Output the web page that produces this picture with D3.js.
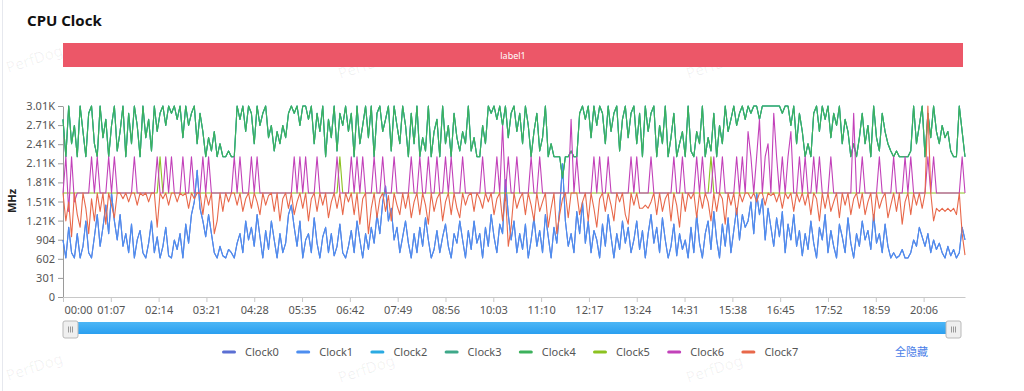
<!DOCTYPE html>
<html>
<head>
<meta charset="utf-8">
<script src="https://cdn.jsdelivr.net/npm/d3@7"></script>
<style>
  body { margin: 0; background: #fff; }
  svg { display: block; font-family: "Noto Sans", "Noto Sans CJK SC", sans-serif; }
</style>
</head>
<body>
<svg id="chart" width="1024" height="391"></svg>
<script>
// one sample every 4 seconds, 0 .. 21:04
const sampleSeconds = 4
const seriesNames = ['Clock0', 'Clock1', 'Clock2', 'Clock3', 'Clock4', 'Clock5', 'Clock6', 'Clock7']
const seriesColors = ['#5b6fd3', '#4d8ef0', '#2aaae2', '#3ea889', '#3cb15c', '#8cc220', '#c241b9', '#e8684a']
const xTickLabels = ['00:00', '01:07', '02:14', '03:21', '04:28', '05:35', '06:42', '07:49', '08:56', '10:03',
  '11:10', '12:17', '13:24', '14:31', '15:38', '16:45', '17:52', '18:59', '20:06']
const yTickLabels = ['0', '301', '602', '904', '1.21K', '1.51K', '1.81K', '2.11K', '2.41K', '2.71K', '3.01K']
const yMax = 3014
const durationSeconds = 1264

// little cores (MHz)
const clock1 = [
  900, 615, 1100, 700, 615, 1000, 615, 800, 1200, 700, 615, 950, 1300, 800, 1100, 1450, 1000, 1641, 1200, 900,
  1300, 800, 1000, 700, 1150, 615, 900, 1050, 700, 615, 850, 1200, 700, 950, 615, 800, 1100, 650, 615, 900,
  750, 1000, 615, 1150, 850, 1300, 1500, 2000, 1400, 1200, 950, 1300, 1000, 700, 615, 800, 650, 615, 750, 700,
  615, 850, 1000, 700, 1200, 900, 1100, 800, 1300, 950, 615, 1050, 750, 1200, 900, 615, 1000, 700, 850, 1300,
  1450, 1100, 800, 1200, 615, 900, 1000, 700, 1250, 850, 615, 950, 1100, 700, 1000, 650, 800, 1150, 700, 615,
  800, 1050, 700, 1200, 900, 615, 1000, 750, 1100, 850, 1300, 1000, 1500, 1750, 1200, 1400, 900, 1100, 700, 950,
  1200, 850, 615, 1000, 700, 1100, 800, 1250, 900, 615, 750, 1050, 700, 950, 1150, 800, 615, 1000, 850, 1200,
  900, 615, 1050, 750, 1200, 850, 1000, 615, 1100, 800, 1300, 950, 700, 1150, 1000, 1850, 1300, 900, 1200, 700,
  1000, 750, 1150, 615, 900, 1250, 800, 1050, 700, 1300, 950, 615, 1100, 850, 1400, 2100, 1200, 800, 1000, 700,
  1350, 1000, 1500, 850, 1200, 700, 1050, 900, 615, 1150, 800, 1300, 950, 615, 1000, 750, 1200, 850, 1100, 700,
  900, 1200, 750, 1050, 615, 1000, 1300, 850, 1100, 700, 1250, 900, 615, 800, 1150, 650, 1000, 750, 900, 615,
  1100, 700, 1300, 850, 615, 1000, 1200, 750, 1350, 900, 615, 1150, 800, 1250, 700, 1050, 1400, 900, 1300, 1100,
  1200, 1500, 1000, 1641, 1300, 1550, 900, 1400, 1100, 800, 1250, 950, 1350, 700, 1150, 900, 1300, 800, 1050, 650,
  1000, 750, 1200, 850, 615, 1100, 900, 1300, 700, 1050, 800, 615, 1150, 950, 700, 1250, 850, 615, 1000, 800,
  1200, 900, 1050, 750, 1300, 850, 1000, 700, 1150, 800, 615, 700, 615, 650, 750, 615, 615, 700, 900, 800,
  1100, 950, 800, 1000, 700, 900, 750, 850, 700, 615, 800, 650, 750, 615, 700, 1100, 900
]

// big cores
const clock4 = [
  2803, 2214, 3014, 2419, 2707, 2214, 3014, 2611, 2214, 2899, 3014, 2419, 2214, 3014, 2515, 2803, 2214, 2707, 3014, 2304,
  2611, 3014, 2214, 2899, 2419, 3014, 2707, 2214, 3014, 2515, 2803, 2304, 3014, 2611, 2899, 3014, 2707, 3014, 2899, 3014,
  2803, 3014, 2515, 3014, 2707, 2899, 3014, 2419, 2899, 2611, 2214, 2515, 2304, 2611, 2214, 2419, 2214, 2214, 2304, 2214,
  2214, 3014, 2803, 3014, 2611, 3014, 2899, 2419, 3014, 2707, 2899, 3014, 2515, 2707, 2304, 2611, 2419, 2707, 2515, 2899,
  3014, 2899, 3014, 2707, 3014, 3014, 2803, 3014, 2419, 2899, 2611, 3014, 2214, 2803, 2515, 3014, 2304, 2899, 2707, 3014,
  2611, 2899, 2214, 3014, 2419, 2707, 3014, 2515, 3014, 2214, 2899, 3014, 2611, 2803, 3014, 2304, 3014, 2707, 2419, 3014,
  2707, 2214, 2899, 2419, 3014, 2214, 2515, 2304, 3014, 2214, 2611, 2803, 2214, 3014, 2419, 2707, 2214, 2899, 2515, 2304,
  2611, 2419, 3014, 2304, 2515, 2214, 2214, 2707, 2419, 3014, 2899, 3014, 2803, 3014, 2707, 3014, 2515, 2899, 3014, 2611,
  2899, 2419, 3014, 2707, 2214, 2611, 2899, 2304, 2515, 3014, 2214, 2419, 2214, 2214, 2214, 1880, 2214, 2214, 2304, 2214,
  2214, 2899, 3014, 2803, 3014, 2515, 3014, 2707, 3014, 2899, 2419, 3014, 2611, 2899, 3014, 2304, 2803, 3014, 2515, 2899,
  3014, 2419, 2899, 2214, 3014, 2611, 2899, 3014, 2214, 2707, 2419, 3014, 2214, 2515, 2899, 2214, 2419, 2611, 2214, 3014,
  2304, 2214, 2611, 2419, 3014, 2214, 2515, 2304, 2899, 2214, 2707, 2419, 3014, 2611, 2803, 3014, 2707, 2899, 3014, 2803,
  3014, 2899, 3014, 3014, 2803, 3014, 3014, 3014, 3014, 3014, 3014, 3014, 2899, 3014, 3014, 2707, 3014, 2419, 2899, 2611,
  2214, 2419, 2214, 2899, 3014, 2611, 3014, 2803, 3014, 2515, 2899, 2707, 3014, 2419, 2803, 2611, 2214, 2419, 2214, 2515,
  2899, 2419, 2707, 2214, 3014, 2515, 2304, 2899, 2611, 2419, 2304, 2214, 2304, 2214, 2214, 2214, 2214, 2304, 3014, 2419,
  2707, 3014, 2214, 2899, 2515, 3014, 2611, 2419, 2707, 2515, 2611, 2304, 2214, 2214, 3014, 2611, 2214
]

const clock5 = [
  1641, 1641, 1641, 1641, 1641, 1641, 1641, 1641, 1641, 1641, 1641, 1641, 1641, 1641, 1641, 1641, 1641, 1641, 1641, 1641,
  1641, 1641, 1641, 1641, 1641, 1641, 1641, 1641, 1641, 1641, 1641, 1641, 1641, 1641, 2214, 1641, 1641, 1641, 1641, 1641,
  1641, 1641, 1641, 1641, 1641, 1641, 1641, 1641, 1641, 1641, 1641, 1641, 1641, 1641, 1641, 1641, 1641, 1641, 1641, 1641,
  1641, 1641, 1641, 1641, 1641, 1641, 1641, 1641, 1641, 1641, 1641, 1641, 1641, 1641, 1641, 1641, 1641, 1641, 1641, 1641,
  1641, 1641, 1641, 1641, 1641, 1641, 1641, 1641, 1641, 1641, 1641, 1641, 1641, 1641, 1641, 1641, 1641, 2214, 1641, 1641,
  1641, 1641, 1641, 1641, 1641, 1641, 1641, 1641, 1641, 1641, 1641, 1641, 1641, 1641, 1641, 1641, 1641, 1641, 1641, 1641,
  1641, 1641, 1641, 1641, 1641, 1641, 1641, 1641, 1641, 1641, 1641, 1641, 1641, 1641, 1641, 1641, 1641, 1641, 1641, 1641,
  1641, 1641, 1641, 1641, 1641, 1641, 1641, 1641, 1641, 1641, 1641, 1641, 1641, 1641, 1641, 1641, 1641, 1641, 1641, 1641,
  1641, 1641, 1641, 1641, 1641, 1641, 1641, 1641, 1641, 1641, 1641, 1641, 1641, 1641, 1641, 1641, 1641, 1641, 1641, 1641,
  1641, 1641, 1641, 1641, 1641, 1641, 1641, 1641, 1641, 1641, 1641, 1641, 1641, 1641, 1641, 1641, 1641, 1641, 1641, 1641,
  1641, 1641, 1641, 1641, 1641, 1641, 1641, 1641, 1641, 1641, 1641, 1641, 1641, 1641, 1641, 1641, 1641, 1641, 1641, 1641,
  1641, 1641, 1641, 1641, 1641, 1641, 1641, 2214, 1641, 1641, 1641, 1641, 1641, 1641, 1641, 1641, 1641, 1641, 1641, 1641,
  1641, 1641, 1641, 1641, 1641, 1641, 1641, 1641, 1641, 1641, 1641, 1641, 1641, 1641, 1641, 1641, 1641, 1641, 1641, 1641,
  1641, 1641, 1641, 1641, 1641, 1641, 1641, 1641, 1641, 1641, 1641, 1641, 1641, 1641, 1641, 1641, 1641, 1641, 1641, 1641,
  1641, 1641, 1641, 1641, 1641, 1641, 1641, 1641, 1641, 1641, 1641, 1641, 1641, 1641, 1641, 1641, 1641, 1641, 1641, 1641,
  1641, 1641, 1641, 1641, 1641, 1641, 1641, 1641, 1641, 1641, 1641, 1641, 1641, 1641, 1641, 1641, 1641
]

const clock6 = [
  1641, 2214, 1350, 2214, 1500, 1641, 1641, 1641, 1641, 1641, 2214, 1641, 2214, 1641, 1641, 1641, 2214, 1641, 2214, 1641,
  1641, 1641, 1641, 1641, 1641, 2214, 1641, 1641, 1641, 1641, 1641, 1641, 1641, 2214, 1641, 1641, 2214, 1641, 2214, 1641,
  1641, 1641, 2214, 1641, 1641, 2214, 1641, 1641, 1641, 2214, 1641, 2214, 1641, 1641, 1641, 1641, 1641, 1641, 1641, 1641,
  2214, 1641, 2214, 1641, 1641, 1641, 2214, 1641, 2214, 1641, 1641, 1641, 1641, 1641, 1641, 1641, 1641, 1641, 1641, 1641,
  1641, 2214, 1641, 2214, 1641, 2214, 1641, 1641, 1641, 2214, 1641, 1641, 1641, 1641, 1641, 1641, 2214, 1641, 1641, 1641,
  1641, 2214, 1641, 2214, 1641, 2214, 1641, 1641, 1641, 2214, 1641, 1641, 2214, 1641, 1641, 1641, 2214, 1641, 1641, 1641,
  1641, 1641, 2214, 1641, 1641, 2214, 1641, 1641, 2214, 1641, 1641, 2214, 1641, 1641, 2214, 1641, 2214, 1641, 1641, 1641,
  2214, 1641, 1641, 1641, 1641, 1641, 1641, 2214, 1641, 1641, 1641, 1641, 2214, 1641, 2700, 1641, 2214, 1641, 1641, 2214,
  1641, 1641, 1641, 1641, 2214, 1641, 1641, 2214, 1641, 1641, 1641, 1641, 1641, 1641, 1641, 1641, 1641, 1641, 2803, 1641,
  2214, 1641, 1641, 1641, 1641, 1641, 2214, 1641, 2214, 1641, 1641, 2214, 1641, 1641, 1641, 1641, 1641, 1641, 1641, 2214,
  1641, 2214, 1641, 1641, 1641, 1641, 2214, 1641, 1641, 1641, 1641, 1641, 1641, 1641, 2214, 1641, 1641, 2214, 1641, 1641,
  1641, 1641, 2214, 1641, 2214, 1641, 1641, 1641, 2214, 1641, 1641, 2214, 1641, 1641, 1641, 1641, 2214, 1641, 2214, 1641,
  2611, 2214, 1641, 2214, 2803, 1641, 2214, 2419, 1641, 2899, 2214, 1641, 2214, 1641, 2214, 2611, 1641, 1641, 2214, 1641,
  2214, 1641, 1641, 2214, 1641, 2214, 1641, 1641, 1641, 2214, 1641, 1641, 1641, 1641, 1641, 1641, 1641, 2899, 1641, 1641,
  2214, 1641, 1641, 1641, 1641, 1641, 2214, 1641, 1641, 1641, 1641, 2214, 1641, 1641, 1641, 2214, 1641, 2214, 1641, 1641,
  1641, 1641, 1641, 2214, 1641, 2214, 1641, 1641, 1641, 1641, 1641, 1641, 1641, 1641, 1641, 2214, 1641
]

const clock7 = [
  1641, 1200, 1500, 950, 1641, 1300, 1100, 1641, 1400, 1000, 1550, 1200, 1641, 1350, 1641, 1150, 1641, 1450, 1250, 1641,
  1641, 1550, 1641, 1500, 1641, 1641, 1450, 1641, 1600, 1641, 1500, 1641, 1641, 1100, 1641, 1550, 1641, 1450, 1641, 1641,
  1500, 1641, 1600, 1641, 1400, 1641, 1550, 1641, 1641, 1300, 1641, 1450, 1641, 1000, 1200, 1641, 1350, 1641, 1500, 1641,
  1641, 1450, 1641, 1350, 1550, 1641, 1400, 1641, 1500, 1300, 1641, 1450, 1600, 1641, 1350, 1641, 1200, 1550, 1641, 1400,
  1641, 1300, 1500, 1641, 1400, 1641, 1200, 1550, 1641, 1350, 1641, 1450, 1641, 1250, 1500, 1641, 1400, 1641, 1300, 1641,
  1500, 1641, 1300, 1641, 1150, 1550, 1641, 1000, 1400, 1641, 1250, 1550, 1641, 1350, 1600, 1200, 1641, 1450, 1300, 1641,
  1400, 1641, 1250, 1500, 1641, 1300, 1641, 1450, 1150, 1641, 1350, 1550, 1641, 1200, 1500, 1641, 1300, 1641, 1400, 1250,
  1641, 1450, 1600, 1641, 1350, 1641, 1550, 1400, 1641, 1500, 1641, 1300, 1550, 1641, 1200, 1641, 800, 1100, 1641, 1400,
  1550, 1641, 1300, 1641, 1450, 1200, 1641, 1350, 1500, 1641, 1100, 1400, 1641, 1000, 1300, 1550, 1641, 1250, 1641, 1641,
  1641, 1300, 1500, 1641, 1200, 1641, 1400, 1100, 1550, 1641, 1350, 1641, 1450, 1200, 1641, 1500, 1641, 1300, 1150, 1641,
  1450, 1641, 1400, 1400, 1450, 1400, 1500, 1641, 1300, 1641, 1350, 1550, 1641, 1200, 1641, 1450, 1100, 1641, 1350, 1641,
  1550, 1641, 1250, 1641, 1400, 1641, 1500, 1200, 1641, 1350, 1641, 1550, 1150, 1641, 1450, 1641, 1300, 1641, 1500, 1641,
  1641, 1550, 1641, 1500, 1641, 1641, 1450, 1641, 1600, 1641, 1500, 1641, 1400, 1641, 1550, 1641, 1350, 1641, 1500, 1641,
  1450, 1641, 1300, 1641, 1550, 1200, 1641, 1400, 1641, 1350, 1500, 1641, 1250, 1641, 1450, 1641, 1300, 1550, 1641, 1400,
  1641, 1300, 1500, 1641, 1200, 1641, 1400, 1550, 1641, 1250, 1450, 1641, 1350, 1641, 1150, 1500, 1641, 1300, 1641, 1450,
  1641, 1400, 1641, 3014, 1641, 1200, 1400, 1350, 1400, 1350, 1400, 1350, 1400, 1300, 1641, 1000, 660
]

// cores of the same cluster run at the same clock, so these lines sit under the ones drawn later
const clock0 = clock1
const clock2 = clock4
const clock3 = clock4

const seriesValues = [clock0, clock1, clock2, clock3, clock4, clock5, clock6, clock7]

const svg = d3.select('#chart')

svg.append('rect').attr('width', 1024).attr('height', 391).attr('fill', '#fff')
svg.append('line')
  .attr('x1', 2.5).attr('x2', 2.5).attr('y1', 0).attr('y2', 391)
  .attr('stroke', '#e6e8ee')

// watermarks
const marks = [[36, 64], [368, 70], [716, 70], [36, 372], [368, 374], [716, 374]]
svg.append('g').selectAll('text')
  .data(marks)
  .enter().append('text')
  .attr('transform', d => `translate(${d[0]},${d[1]}) rotate(-18)`)
  .attr('text-anchor', 'middle')
  .attr('font-size', 15)
  .attr('fill', '#000')
  .attr('fill-opacity', 0.06)
  .text('PerfDog')

svg.append('text')
  .attr('x', 27).attr('y', 26)
  .attr('font-size', 15).attr('font-weight', 'bold').attr('fill', '#111')
  .text('CPU Clock')

// banner
svg.append('rect')
  .attr('x', 63).attr('y', 43).attr('width', 900).attr('height', 24)
  .attr('fill', '#ec5768')
svg.append('text')
  .attr('x', 513).attr('y', 58.5)
  .attr('text-anchor', 'middle').attr('font-size', 9).attr('fill', '#fff')
  .text('label1')

const x = d3.scaleLinear().domain([0, durationSeconds]).range([63, 965])
const y = d3.scaleLinear().domain([0, yMax]).range([297, 106])

const tickSeconds = xTickLabels.map(s => {
  const [m, sec] = s.split(':').map(Number)
  return m * 60 + sec
})
const yTicks = yTickLabels.map((d, i) => yMax * i / (yTickLabels.length - 1))

const yAxis = svg.append('g')
  .attr('transform', 'translate(63,0)')
  .call(d3.axisLeft(y).tickValues(yTicks).tickFormat((d, i) => yTickLabels[i]).tickSize(5).tickSizeOuter(0))
yAxis.select('.domain').attr('stroke', '#9a9a9a')
yAxis.selectAll('.tick line').attr('stroke', '#9a9a9a')
yAxis.selectAll('text').attr('font-size', 11).attr('fill', '#555').attr('font-family', '"Noto Sans", sans-serif')

const xAxis = svg.append('g')
  .attr('transform', 'translate(0,297)')
  .call(d3.axisBottom(x).tickValues(tickSeconds).tickFormat((d, i) => xTickLabels[i]).tickSize(5).tickSizeOuter(0).tickPadding(4))
xAxis.select('.domain').attr('stroke', '#c8c8c8')
xAxis.selectAll('.tick line').attr('stroke', '#c8c8c8')
xAxis.selectAll('text').attr('font-size', 11).attr('fill', '#555').attr('font-family', '"Noto Sans", sans-serif')
xAxis.select('.tick text').attr('text-anchor', 'start').attr('dx', 1)

svg.append('text')
  .attr('transform', 'translate(16,201) rotate(-90)')
  .attr('text-anchor', 'middle').attr('font-size', 11).attr('font-weight', 'bold').attr('fill', '#222')
  .text('MHz')

const line = d3.line()
  .x((d, i) => x(i * sampleSeconds))
  .y(d => y(d))

svg.append('g').selectAll('path')
  .data(seriesValues)
  .enter().append('path')
  .attr('d', d => line(d))
  .attr('fill', 'none')
  .attr('stroke', (d, i) => seriesColors[i])
  .attr('stroke-width', 1.1)
  .attr('stroke-linejoin', 'round')

// data zoom slider
const grad = svg.append('defs').append('linearGradient')
  .attr('id', 'slider').attr('x1', '0%').attr('y1', '0%').attr('x2', '0%').attr('y2', '100%')
grad.append('stop').attr('offset', '0%').attr('stop-color', '#4cb6f6')
grad.append('stop').attr('offset', '100%').attr('stop-color', '#2a9ff0')

svg.append('rect')
  .attr('x', 70).attr('y', 322).attr('width', 884).attr('height', 12)
  .attr('fill', 'url(#slider)')

const handles = [63, 946]
const handle = svg.append('g').selectAll('g')
  .data(handles)
  .enter().append('g')
  .attr('transform', d => `translate(${d},321)`)
handle.append('rect')
  .attr('width', 15).attr('height', 17).attr('rx', 2)
  .attr('fill', '#efefef').attr('stroke', '#b9b9b9')
handle.selectAll('line')
  .data([5.5, 7.5, 9.5])
  .enter().append('line')
  .attr('x1', d => d).attr('x2', d => d).attr('y1', 5.5).attr('y2', 11.5)
  .attr('stroke', '#999')

// legend
const legend = svg.append('g').selectAll('g')
  .data(seriesNames)
  .enter().append('g')
  .attr('transform', (d, i) => `translate(${222 + i * 74.2},352)`)
legend.append('rect')
  .attr('x', 0).attr('y', -1.5).attr('width', 14).attr('height', 3).attr('rx', 1.5)
  .attr('fill', (d, i) => seriesColors[i])
legend.append('text')
  .attr('x', 23).attr('y', 4)
  .attr('font-size', 11).attr('fill', '#555')
  .text(d => d)

svg.append('text')
  .attr('x', 895).attr('y', 356)
  .attr('font-size', 11).attr('fill', '#4a7ee8')
  .attr('font-family', '"Noto Sans CJK SC", sans-serif')
  .text('全隐藏')
</script>
</body>
</html>
